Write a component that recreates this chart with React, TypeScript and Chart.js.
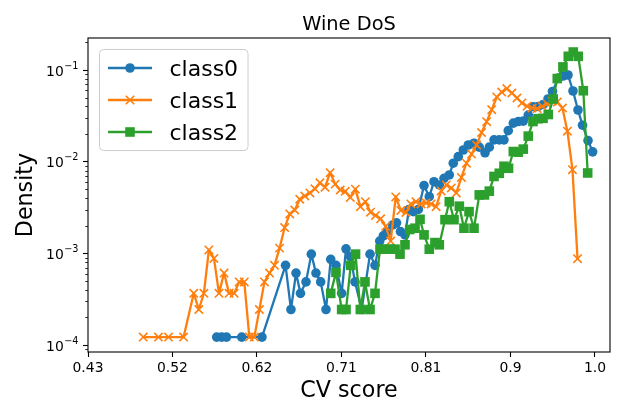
import React, { useEffect, useRef } from "react";
import { Chart, registerables } from "chart.js";

Chart.register(...registerables);

const TITLE = "Wine DoS";
const X_LABEL = "CV score";
const Y_LABEL = "Density";
const SERIES_NAMES = ["class0", "class1", "class2"];
const SERIES_COLORS = ["#1f77b4", "#ff7f0e", "#2ca02c"];

const X_TICK_VALUES = [0.43, 0.525, 0.62, 0.715, 0.81, 0.905, 1.0];
const X_TICK_LABELS = ["0.43", "0.52", "0.62", "0.71", "0.81", "0.9", "1.0"];
const Y_TICK_VALUES = [1e-4, 1e-3, 1e-2, 1e-1];
const Y_TICK_EXPONENTS = ["\u22124", "\u22123", "\u22122", "\u22121"];
const X_MIN = 0.43;
const X_MAX = 1.0169;
const Y_MIN = 8.39e-5;
const Y_MAX = 0.2234;

// class0 (blue, circles)
const class0X = [
  0.5747, 0.5803, 0.5857, 0.6028, 0.6256, 0.6521, 0.6582, 0.6639, 0.6689, 0.6751,
  0.6811, 0.6863, 0.6916, 0.6976, 0.7029, 0.7088, 0.7152, 0.7201, 0.7251, 0.7302,
  0.7377, 0.7471, 0.7527, 0.758, 0.762, 0.7665, 0.7726, 0.7769, 0.7813, 0.7864,
  0.7909, 0.7957, 0.8014, 0.8078, 0.8137, 0.819, 0.825, 0.8303, 0.8362, 0.8407,
  0.8463, 0.852, 0.8576, 0.864, 0.8699, 0.8764, 0.8812, 0.8865, 0.8924, 0.8977,
  0.9025, 0.9082, 0.9138, 0.9194, 0.925, 0.9307, 0.9363, 0.9419, 0.9472, 0.9522,
  0.9588, 0.964, 0.9697, 0.9753, 0.9809, 0.986, 0.9922, 0.9974,
];
const class0Y = [
  1.22e-4, 1.22e-4, 1.22e-4, 1.22e-4, 1.22e-4, 7.4e-4, 2.44e-4, 6.1e-4, 3.66e-4, 4.88e-4,
  9.8e-4, 6.1e-4, 4.88e-4, 2.44e-4, 8.6e-4, 7.4e-4, 3.66e-4, 1.12e-3, 9.2e-4, 4.88e-4,
  2.44e-4, 9.8e-4, 7.4e-4, 1.36e-3, 1.55e-3, 1.73e-3, 2.04e-3, 2.15e-3, 1.73e-3, 1.59e-3,
  3.01e-3, 2.85e-3, 3.01e-3, 5.49e-3, 4.15e-3, 6.05e-3, 5.57e-3, 6.59e-3, 7.16e-3, 9.62e-3,
  1.135e-2, 1.34e-2, 1.52e-2, 1.59e-2, 1.44e-2, 1.25e-2, 1.44e-2, 1.73e-2, 1.73e-2, 1.73e-2,
  2.18e-2, 2.63e-2, 2.74e-2, 2.77e-2, 3.22e-2, 3.98e-2, 4.0e-2, 4.21e-2, 4.83e-2, 5.83e-2,
  8.18e-2, 8.6e-2, 8.82e-2, 5.9e-2, 3.66e-2, 2.5e-2, 1.7e-2, 1.28e-2,
];

// class1 (orange, x markers)
const class1X = [
  0.4921, 0.5092, 0.5205, 0.5375, 0.5489, 0.5546, 0.5603, 0.5659, 0.5716, 0.5773,
  0.583, 0.5886, 0.5943, 0.6, 0.6057, 0.6114, 0.617, 0.6227, 0.6284, 0.6341,
  0.6397, 0.6454, 0.6511, 0.6568, 0.6625, 0.6681, 0.6738, 0.6795, 0.6852, 0.6908,
  0.6965, 0.7022, 0.7079, 0.7136, 0.7192, 0.7249, 0.7306, 0.7363, 0.7419, 0.7476,
  0.7533, 0.759, 0.7647, 0.7703, 0.776, 0.7817, 0.7874, 0.793, 0.7987, 0.8044,
  0.8101, 0.8158, 0.8214, 0.8271, 0.8328, 0.8385, 0.8441, 0.8498, 0.8555, 0.8612,
  0.8669, 0.8725, 0.8782, 0.8839, 0.8896, 0.8952, 0.9009, 0.9066, 0.9123, 0.9179,
  0.9236, 0.9293, 0.935, 0.9407, 0.9463, 0.952, 0.9577, 0.9634, 0.969, 0.9747,
  0.9804,
];
const class1Y = [
  1.22e-4, 1.22e-4, 1.22e-4, 1.22e-4, 3.66e-4, 2.44e-4, 3.66e-4, 1.09e-3, 8.8e-4, 3.66e-4,
  6.1e-4, 3.66e-4, 3.66e-4, 4.88e-4, 4.88e-4, 1.22e-4, 1.22e-4, 2.44e-4, 4.88e-4, 6.1e-4,
  7.4e-4, 1.14e-3, 1.91e-3, 2.69e-3, 2.97e-3, 3.89e-3, 4.22e-3, 4.56e-3, 5.06e-3, 5.88e-3,
  5.26e-3, 7.59e-3, 5.69e-3, 4.91e-3, 4.75e-3, 4.07e-3, 5.01e-3, 3.23e-3, 3.66e-3, 2.81e-3,
  2.59e-3, 2.38e-3, 1.97e-3, 1.36e-3, 4.12e-3, 2.94e-3, 2.79e-3, 3.46e-3, 3.66e-3, 3.46e-3,
  3.55e-3, 3.46e-3, 3.23e-3, 4.79e-3, 5.57e-3, 5.17e-3, 4.56e-3, 6.73e-3, 9.62e-3, 1.21e-2,
  1.52e-2, 2.08e-2, 2.73e-2, 3.69e-2, 5.08e-2, 5.75e-2, 6.28e-2, 5.61e-2, 4.95e-2, 4.37e-2,
  4.02e-2, 3.85e-2, 3.79e-2, 4.02e-2, 4.26e-2, 4.56e-2, 4.48e-2, 3.85e-2, 2.15e-2, 8.18e-3,
  8.75e-4,
];

// class2 (green, squares)
const class2X = [
  0.7029, 0.7088, 0.7152, 0.7201, 0.7254, 0.7308, 0.7362, 0.7414, 0.7471, 0.7527,
  0.7583, 0.7639, 0.7695, 0.7752, 0.7808, 0.7864, 0.7917, 0.7977, 0.8033, 0.8078,
  0.8137, 0.8201, 0.825, 0.8314, 0.8362, 0.8415, 0.8475, 0.8527, 0.8584, 0.864,
  0.8699, 0.8758, 0.8812, 0.8865, 0.8924, 0.8977, 0.9028, 0.9082, 0.9138, 0.9194,
  0.925, 0.9303, 0.9359, 0.9416, 0.9475, 0.9531, 0.9576, 0.964, 0.97, 0.9756,
  0.9812, 0.9869, 0.9918,
];
const class2Y = [
  3.66e-4, 6.2e-4, 2.44e-4, 2.44e-4, 7.4e-4, 9.8e-4, 2.44e-4, 4.88e-4, 2.44e-4, 3.66e-4,
  1.11e-3, 1.11e-3, 1.11e-3, 1.11e-3, 9.8e-4, 1.24e-3, 1.82e-3, 1.88e-3, 2.35e-3, 1.59e-3,
  1.11e-3, 1.31e-3, 1.24e-3, 2.33e-3, 3.66e-3, 2.33e-3, 3.27e-3, 1.88e-3, 2.85e-3, 1.88e-3,
  4.34e-3, 4.34e-3, 4.77e-3, 6.9e-3, 7.47e-3, 8.91e-3, 8.47e-3, 1.29e-2, 1.27e-2, 1.37e-2,
  1.9e-2, 2.74e-2, 2.94e-2, 2.97e-2, 3.27e-2, 4.83e-2, 8.07e-2, 0.108, 0.141, 0.157,
  0.141, 5.94e-2, 7.53e-3,
];

const FONT = '"DejaVu Sans"';

function toPoints(xs: number[], ys: number[]) {
  return xs.map((x, i) => ({ x, y: ys[i] }));
}

function drawMarker(ctx: CanvasRenderingContext2D, kind: number, x: number, y: number, color: string) {
  ctx.save();
  ctx.fillStyle = color;
  ctx.strokeStyle = color;
  if (kind === 0) {
    ctx.beginPath();
    ctx.arc(x, y, 4.8, 0, Math.PI * 2);
    ctx.fill();
  } else if (kind === 1) {
    ctx.lineWidth = 1.6;
    const d = 4.2;
    ctx.beginPath();
    ctx.moveTo(x - d, y - d);
    ctx.lineTo(x + d, y + d);
    ctx.moveTo(x - d, y + d);
    ctx.lineTo(x + d, y - d);
    ctx.stroke();
  } else {
    ctx.fillRect(x - 4.8, y - 4.8, 9.6, 9.6);
  }
  ctx.restore();
}

const decorPlugin = {
  id: "decor",
  afterDraw(chart: any) {
    const { ctx, chartArea: a, scales } = chart;
    const ys = scales.y;
    ctx.save();
    // spines
    ctx.strokeStyle = "#000";
    ctx.lineWidth = 1.1;
    ctx.strokeRect(a.left, a.top, a.right - a.left, a.bottom - a.top);

    // minor y ticks
    ctx.lineWidth = 0.8;
    for (let e = -5; e <= 0; e++) {
      for (let m = 2; m <= 9; m++) {
        const v = m * Math.pow(10, e);
        if (v < ys.min || v > ys.max) continue;
        const py = Math.round(ys.getPixelForValue(v)) + 0.5;
        ctx.beginPath();
        ctx.moveTo(a.left - 2.8, py);
        ctx.lineTo(a.left, py);
        ctx.stroke();
      }
    }

    // y tick labels (10^exp)
    ctx.fillStyle = "#000";
    ctx.textAlign = "right";
    ctx.textBaseline = "alphabetic";
    Y_TICK_VALUES.forEach((v, i) => {
      const py = ys.getPixelForValue(v);
      const right = a.left - 9.5;
      ctx.font = `9.7px ${FONT}`;
      const ew = ctx.measureText(Y_TICK_EXPONENTS[i]).width;
      ctx.fillText(Y_TICK_EXPONENTS[i], right, py - 1.5);
      ctx.font = `13.9px ${FONT}`;
      ctx.fillText("10", right - ew - 0.5, py + 5.5);
    });

    // title
    const cx = (a.left + a.right) / 2;
    ctx.textAlign = "center";
    ctx.font = `19.4px ${FONT}`;
    ctx.fillText(TITLE, cx, 29.5);

    // x label
    ctx.font = `22.2px ${FONT}`;
    ctx.fillText(X_LABEL, cx, 397);

    // y label
    ctx.save();
    ctx.translate(32, (a.top + a.bottom) / 2);
    ctx.rotate(-Math.PI / 2);
    ctx.fillText(Y_LABEL, 0, 0);
    ctx.restore();

    // legend
    const lx = 99.5, ly = 49.5, lw = 148.5, lh = 101, r = 4;
    ctx.beginPath();
    ctx.moveTo(lx + r, ly);
    ctx.lineTo(lx + lw - r, ly);
    ctx.arcTo(lx + lw, ly, lx + lw, ly + r, r);
    ctx.lineTo(lx + lw, ly + lh - r);
    ctx.arcTo(lx + lw, ly + lh, lx + lw - r, ly + lh, r);
    ctx.lineTo(lx + r, ly + lh);
    ctx.arcTo(lx, ly + lh, lx, ly + lh - r, r);
    ctx.lineTo(lx, ly + r);
    ctx.arcTo(lx, ly, lx + r, ly, r);
    ctx.closePath();
    ctx.fillStyle = "rgba(255,255,255,0.8)";
    ctx.fill();
    ctx.strokeStyle = "#cccccc";
    ctx.lineWidth = 1;
    ctx.stroke();

    const rows = [68, 100, 132];
    SERIES_NAMES.forEach((name, i) => {
      const y = rows[i];
      ctx.strokeStyle = SERIES_COLORS[i];
      ctx.lineWidth = 2.3;
      ctx.beginPath();
      ctx.moveTo(108, y);
      ctx.lineTo(152, y);
      ctx.stroke();
      drawMarker(ctx, i, 130, y, SERIES_COLORS[i]);
      ctx.fillStyle = "#000";
      ctx.textAlign = "left";
      ctx.font = `22px ${FONT}`;
      ctx.fillText(name, 169.5, y + 8);
    });
    ctx.restore();
  },
};

export default function App() {
  const ref = useRef<HTMLCanvasElement>(null);
  useEffect(() => {
    const canvas = ref.current;
    if (!canvas) return;
    const common = { borderWidth: 2.3, tension: 0, borderJoinStyle: "round" as const, fill: false };
    const chart = new Chart(canvas, {
      type: "line",
      data: {
        datasets: [
          {
            ...common,
            label: SERIES_NAMES[0],
            data: toPoints(class0X, class0Y),
            borderColor: SERIES_COLORS[0],
            backgroundColor: SERIES_COLORS[0],
            pointStyle: "circle",
            pointRadius: 4.8,
            pointBorderWidth: 0,
            pointBackgroundColor: SERIES_COLORS[0],
            order: 2,
          },
          {
            ...common,
            label: SERIES_NAMES[1],
            data: toPoints(class1X, class1Y),
            borderColor: SERIES_COLORS[1],
            backgroundColor: SERIES_COLORS[1],
            pointStyle: "crossRot",
            pointRadius: 5.9,
            pointBorderWidth: 1.6,
            pointBorderColor: SERIES_COLORS[1],
            order: 1,
          },
          {
            ...common,
            label: SERIES_NAMES[2],
            data: toPoints(class2X, class2Y),
            borderColor: SERIES_COLORS[2],
            backgroundColor: SERIES_COLORS[2],
            pointStyle: "rect",
            pointRadius: 6.8,
            pointBorderWidth: 0,
            pointBackgroundColor: SERIES_COLORS[2],
            order: 0,
          },
        ],
      },
      options: {
        animation: false,
        responsive: false,
        devicePixelRatio: 1,
        events: [],
        layout: { padding: { top: 38, right: 9, left: 0, bottom: 0 } },
        plugins: {
          legend: { display: false },
          title: { display: false },
          tooltip: { enabled: false },
        },
        scales: {
          x: {
            type: "linear",
            min: X_MIN,
            max: X_MAX,
            bounds: "data",
            afterBuildTicks: (scale: any) => {
              scale.ticks = X_TICK_VALUES.map((v) => ({ value: v }));
            },
            afterFit: (scale: any) => {
              scale.height = 51;
            },
            border: { display: false },
            grid: {
              display: true,
              drawOnChartArea: false,
              drawTicks: true,
              tickLength: 5,
              tickWidth: 1.1,
              tickColor: "#000",
            },
            ticks: {
              autoSkip: false,
              maxRotation: 0,
              padding: 3,
              color: "#000",
              font: { family: "DejaVu Sans", size: 13.9 },
              callback: (_v: any, i: number) => X_TICK_LABELS[i],
            },
          },
          y: {
            type: "logarithmic",
            min: Y_MIN,
            max: Y_MAX,
            bounds: "data",
            afterBuildTicks: (scale: any) => {
              scale.ticks = Y_TICK_VALUES.map((v) => ({ value: v, major: true }));
            },
            afterFit: (scale: any) => {
              scale.width = 88;
            },
            border: { display: false },
            grid: {
              display: true,
              drawOnChartArea: false,
              drawTicks: true,
              tickLength: 5,
              tickWidth: 1.1,
              tickColor: "#000",
            },
            ticks: {
              autoSkip: false,
              padding: 3,
              color: "#000",
              font: { family: "DejaVu Sans", size: 13.9 },
              callback: () => "",
            },
          },
        },
      },
      plugins: [decorPlugin],
    } as any);
    return () => chart.destroy();
  }, []);

  return (
    <div style={{ position: "absolute", left: 0, top: 0, width: 619, height: 403, background: "#fff" }}>
      <canvas ref={ref} width={619} height={403} style={{ display: "block", width: 619, height: 403 }} />
    </div>
  );
}
